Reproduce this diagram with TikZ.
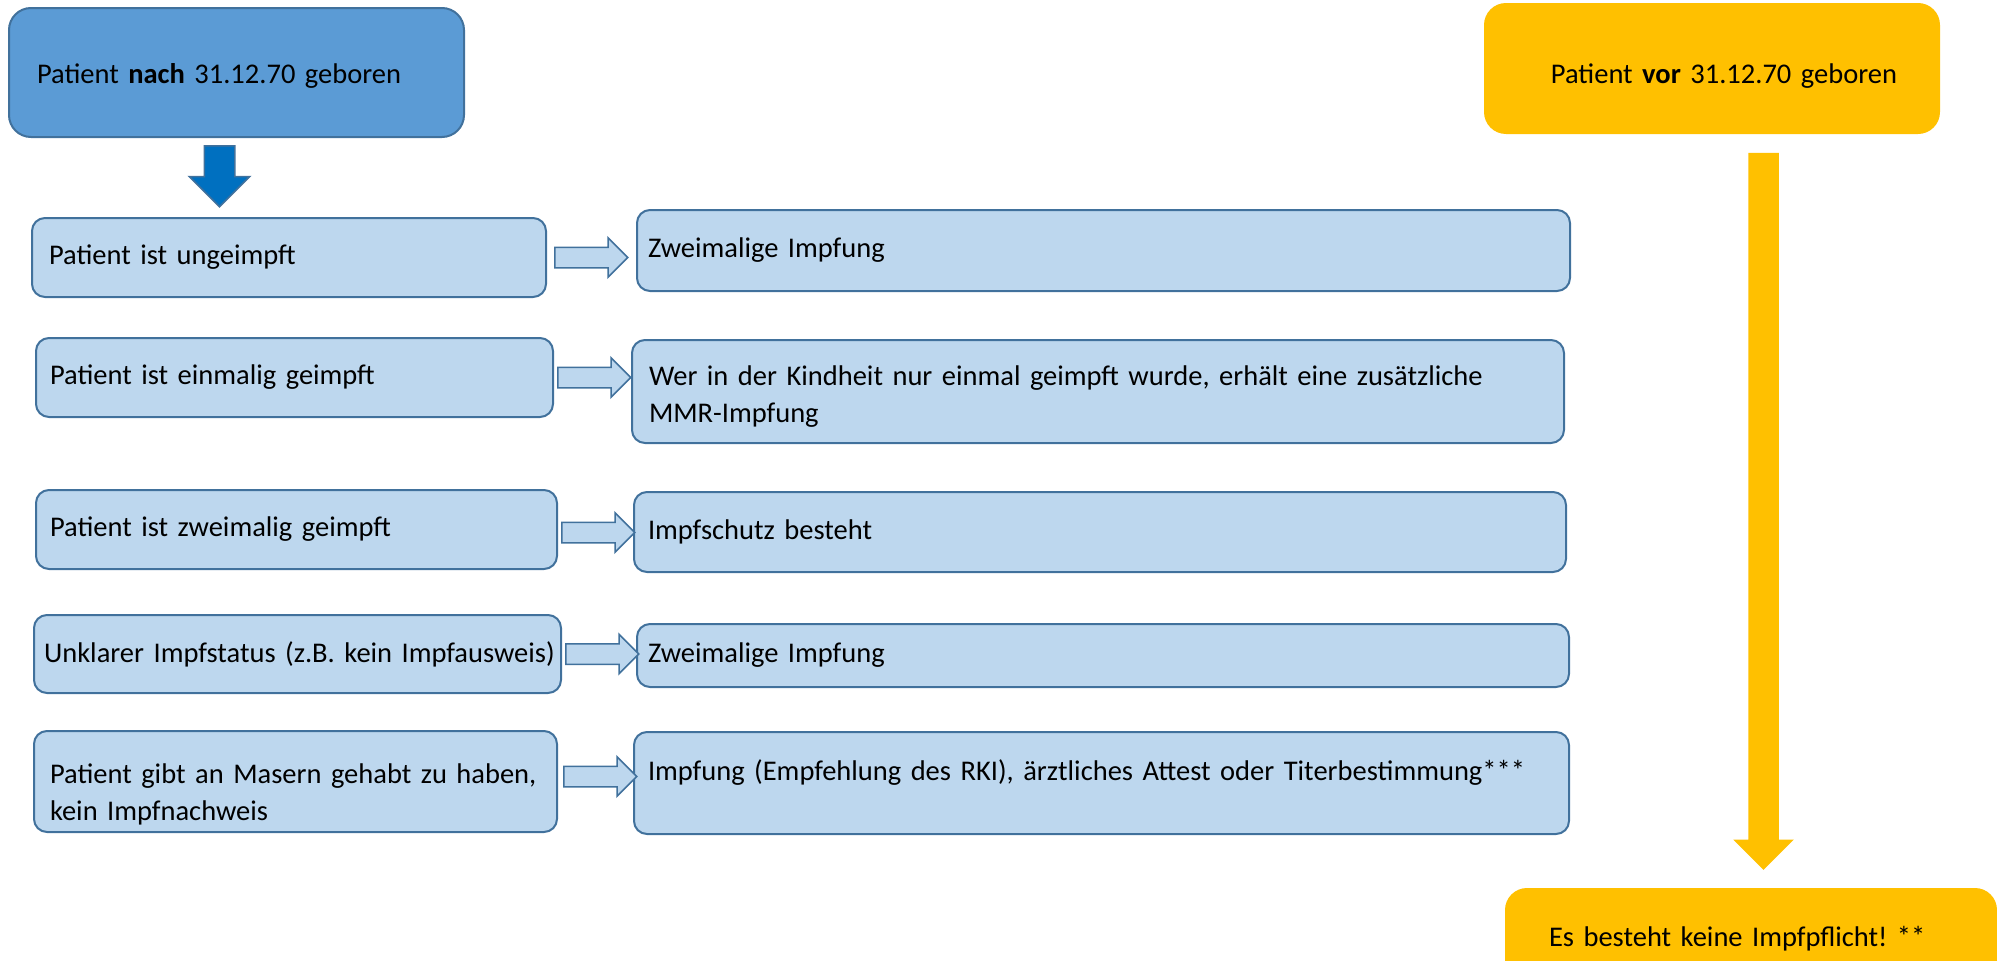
\documentclass[tikz,border=0pt]{standalone}
\usepackage{fontspec}
\setmainfont{Carlito}
\frenchspacing
\usetikzlibrary{positioning, shapes.arrows, calc}
\definecolor{dunkelblau}{HTML}{5B9BD5}
\definecolor{hellblau}{HTML}{BDD7EE}
\definecolor{rahmen}{HTML}{41719C}
\definecolor{pfeilblau}{HTML}{0070C0}
\definecolor{gelb}{HTML}{FFC000}
\tikzset{
        x=1pt, y=-1pt, % coordinates as in the picture, y grows downwards
        every node/.style={font=\fontsize{28.5}{36.5}\selectfont, inner ysep=0pt},
        kasten/.style={anchor=north west, align=left, draw=rahmen, line width=2pt, fill=hellblau, rounded corners=13pt}, % light boxes
        oben/.style={kasten, fill=dunkelblau, rounded corners=22pt},
        gelbkasten/.style={kasten, draw=none, fill=gelb, rounded corners=22pt},
        pfeil/.style={single arrow, draw=rahmen, line width=1.5pt, fill=hellblau, minimum height=73pt, inner xsep=0pt, inner ysep=9.5pt, single arrow head extend=9.5pt},
        pfeilrunter/.style={pfeil, rotate=-90, anchor=west, inner ysep=14.5pt, single arrow head extend=15pt},
    }
\begin{document}
\begin{tikzpicture}
    \useasboundingbox (0,0) rectangle (1997,961);
    % top boxes
    \node[oben, text width=399pt, inner xsep=28pt, minimum height=129pt, text height=27pt] (nach) at (8,7) {Patient \textbf{nach} 31.12.70 geboren};
    \node[gelbkasten, align=right, text width=370pt, inner xsep=43pt, minimum height=131pt, text height=35pt] (vor) at (1483,2) {Patient \textbf{vor} 31.12.70 geboren};
    % left column
    \node[kasten, text width=480pt, inner xsep=17pt, minimum height=79pt] (ung) at (31,217) {Patient ist ungeimpft};
    \node[kasten, text width=489pt, inner xsep=14pt, minimum height=79pt] (einm) at (35,337) {Patient ist einmalig geimpft};
    \node[kasten, text width=493pt, inner xsep=14pt, minimum height=79pt] (zweim) at (35,489) {Patient ist zweimalig geimpft};
    \node[kasten, text width=507pt, inner xsep=10pt, minimum height=78pt] (unkl) at (33,614) {\mbox{Unklarer Impfstatus (z.B. kein Impfausweis)}};
    \node[kasten, text width=491pt, inner xsep=16pt, minimum height=101pt, text height=45.5pt] (masern) at (33,730) {\mbox{Patient gibt an Masern gehabt zu haben,}\\ kein Impfnachweis};
    % right column
    \node[kasten, text width=911pt, inner xsep=11pt, minimum height=81pt] (zw1) at (636,209) {Zweimalige Impfung};
    \node[kasten, text width=898pt, inner xsep=17pt, minimum height=103pt, text height=29.5pt] (kind) at (631,339) {Wer in der Kindheit nur einmal geimpft wurde, erhält eine zusätzliche\\ MMR-Impfung};
    \node[kasten, text width=904pt, inner xsep=14pt, minimum height=80pt] (schutz) at (633,491) {Impfschutz besteht};
    \node[kasten, text width=910pt, inner xsep=11pt, minimum height=63pt] (zw2) at (636,623) {Zweimalige Impfung};
    \node[kasten, text width=907pt, inner xsep=14pt, minimum height=102pt, text depth=26pt] (rki) at (633,731) {Impfung (Empfehlung des RKI), ärztliches Attest oder Titerbestimmung***};
    \node[gelbkasten, text width=404pt, inner xsep=44pt, minimum height=102pt] (keine) at (1504,887) {Es besteht keine Impfpflicht! **};
    % arrows
    \node[pfeilrunter, fill=pfeilblau, minimum height=61pt] (p0) at ($(nach.south)+(-17,7)$) {};
    \node[pfeilrunter, draw=none, fill=gelb, minimum height=717pt] (pv) at ($(vor.south)+(51.5,17)$) {};
    \node[pfeil, right=7pt of ung] (p1) {};
    \node[pfeil, right=3pt of einm] (p2) {};
    \node[pfeil, right=3pt of zweim, yshift=-3pt] (p3) {};
    \node[pfeil, right=3pt of unkl] (p4) {};
    \node[pfeil, right=5pt of masern, yshift=5pt] (p5) {};
\end{tikzpicture}
\end{document}
